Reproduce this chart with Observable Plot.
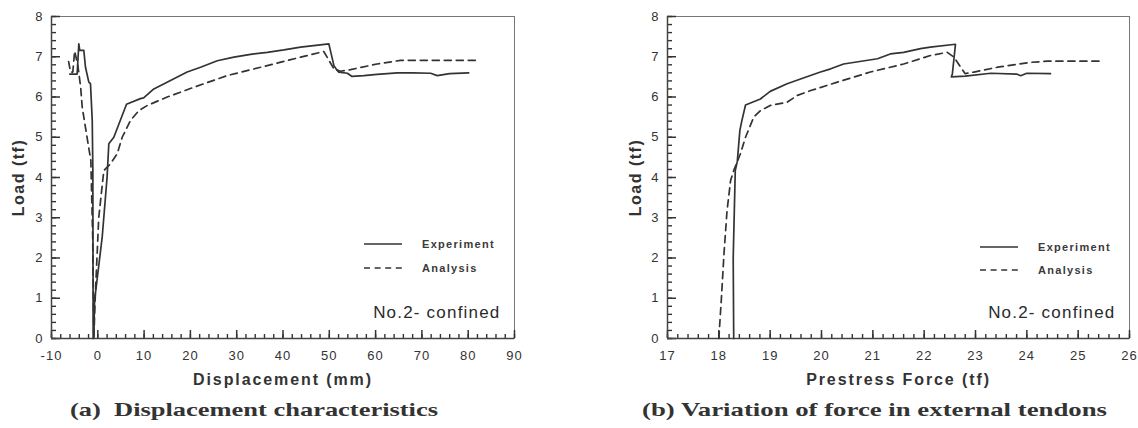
<!DOCTYPE html>
<html><head><meta charset="utf-8">
<script src="https://cdn.jsdelivr.net/npm/d3@7"></script>
<script src="https://cdn.jsdelivr.net/npm/@observablehq/plot@0.6"></script>
<style>
body{margin:0;background:#fff;}
#wrap{position:relative;width:1138px;height:428px;overflow:hidden;background:#fff;}
.panel{position:absolute;top:0;}
</style></head><body><div id="wrap"></div>
<script>
// ---- text ----
const loadLabel = "Load (tf)";
const xTitleA = "Displacement (mm)";
const xTitleB = "Prestress Force (tf)";
const noteText = "No.2- confined";
const seriesNames = ["Experiment", "Analysis"];
const captionA = "(a)  Displacement characteristics";
const captionB = "(b) Variation of force in external tendons";

// ---- ticks ----
const yMajor = [0, 1, 2, 3, 4, 5, 6, 7, 8];
const yMinor = d3.range(0, 8.001, 0.2);
const xMajorA = [-10, 0, 10, 20, 30, 40, 50, 60, 70, 80, 90];
const xMinorA = d3.range(-10, 90.001, 2);
const xMajorB = [17, 18, 19, 20, 21, 22, 23, 24, 25, 26];
const xMinorB = d3.range(17, 26.001, 0.2);

// ---- (a) Load vs displacement [mm, tf] ----
const expA = [
  [-6.05,6.57],[-4.46,6.57],[-4.1,7.32],[-3.9,7.16],[-3.02,7.16],[-2.66,6.74],[-1.94,6.37],
  [-1.58,6.33],[-1.2,5.42],[-1.07,4.17],[-1.0,0.0],[-0.86,0.05],[-0.7,0.94],[0.95,2.52],
  [2.0,4.0],[2.38,4.84],[3.46,5.0],[6.2,5.82],[9.2,5.96],[9.9,5.98],[12.1,6.2],[15.7,6.41],
  [19.3,6.62],[22.2,6.74],[25.8,6.9],[29.4,6.99],[33.0,7.06],[36.6,7.11],[40.2,7.17],
  [43.8,7.24],[49.9,7.32],[51.0,6.78],[51.7,6.66],[52.05,6.62],[53.9,6.59],[54.9,6.51],
  [57.45,6.53],[60.3,6.56],[64.7,6.6],[68.0,6.6],[71.9,6.59],[73.3,6.53],[76.0,6.58],[80.1,6.6]
];
const anaA = [
  [-6.3,6.88],[-5.9,6.62],[-5.4,6.62],[-5.0,7.14],[-4.3,6.78],[-3.7,6.24],[-3.37,5.75],
  [-2.1,4.84],[-1.5,4.42],[-1.1,2.5],[-0.85,0.0],[-0.6,0.9],[0.2,3.0],[1.3,4.17],[1.7,4.22],
  [2.74,4.34],[4.19,4.59],[5.27,5.0],[7.06,5.42],[8.86,5.66],[10.7,5.79],[15.0,6.0],
  [20.7,6.24],[27.9,6.53],[36.6,6.78],[43.8,6.99],[48.8,7.13],[51.0,6.7],[52.4,6.64],
  [54.6,6.68],[60.3,6.82],[65.4,6.91],[71.9,6.91],[82.3,6.91]
];

// ---- (b) Load vs prestress force [tf, tf] ----
const expB = [
  [18.29,0.0],[18.28,2.0],[18.32,4.17],[18.36,4.4],[18.41,5.17],[18.45,5.42],[18.52,5.8],
  [18.81,5.95],[19.0,6.14],[19.33,6.33],[19.66,6.48],[19.98,6.62],[20.18,6.7],[20.43,6.82],
  [21.09,6.95],[21.34,7.07],[21.6,7.11],[21.93,7.2],[22.12,7.24],[22.61,7.31],[22.55,6.58],
  [22.53,6.5],[22.8,6.52],[23.3,6.59],[23.8,6.57],[23.88,6.53],[24.0,6.59],[24.46,6.58]
];
const anaB = [
  [18.0,0.0],[18.05,1.0],[18.1,2.1],[18.16,3.18],[18.23,3.93],[18.29,4.17],[18.42,4.59],
  [18.52,5.0],[18.68,5.5],[18.81,5.66],[19.0,5.79],[19.33,5.87],[19.53,6.04],[19.79,6.16],
  [20.31,6.37],[20.95,6.62],[21.6,6.82],[22.12,7.03],[22.45,7.11],[22.58,6.99],[22.71,6.74],
  [22.8,6.58],[22.97,6.62],[23.43,6.74],[24.07,6.86],[24.4,6.89],[25.44,6.89]
];

const ink = "#333";
const sans = "'Liberation Sans', Arial, Helvetica, sans-serif";

function panel({exp, ana, xDomain, xMajor, xMinor, xTitle, marginLeft, marginRight, yTitleDx}) {
  const W = 569, H = 390, mt = 16, mb = 52;
  const fw = W - marginLeft - marginRight, fh = H - mt - mb;
  const svg = Plot.plot({
    width: W, height: H, marginLeft, marginRight, marginTop: mt, marginBottom: mb,
    x: {domain: xDomain},
    y: {domain: [0, 8]},
    style: {fontFamily: sans, fontSize: "13px", color: ink, background: "transparent", overflow: "visible"},
    marks: [
      Plot.frame({stroke: "#777", strokeWidth: 1}),
      Plot.ruleX(xMinor, {x: d => d, insetTop: fh - 4, stroke: "#333", strokeWidth: 1.4}),
      Plot.ruleX(xMajor, {x: d => d, insetTop: fh - 8, stroke: "#333", strokeWidth: 1.5}),
      Plot.ruleY(yMinor, {y: d => d, insetRight: fw - 5, stroke: "#333", strokeWidth: 1.4}),
      Plot.ruleY(yMajor, {y: d => d, insetRight: fw - 9, stroke: "#333", strokeWidth: 1.5}),
      Plot.ruleY([yMajor[0]], {stroke: "#444", strokeWidth: 1.5}),
      Plot.ruleX([xDomain[0]], {stroke: "#444", strokeWidth: 1.5}),
      Plot.axisX({ticks: xMajor, tickSize: 0, tickPadding: 12, label: null, tickFormat: d => String(d), fontSize: 13, fill: ink}),
      Plot.axisY({ticks: yMajor, tickSize: 0, tickPadding: 8, label: null, tickFormat: d => String(d), fontSize: 13, fill: ink}),
      Plot.line(exp, {x: d => d[0], y: d => d[1], stroke: ink, strokeWidth: 1.7, strokeLinejoin: "round"}),
      Plot.line(ana, {x: d => d[0], y: d => d[1], stroke: ink, strokeWidth: 1.7, strokeDasharray: "7,5"}),
      Plot.text([xTitle], {frameAnchor: "bottom", dy: 41, lineAnchor: "middle", fontSize: 16, fontWeight: "bold", fill: ink}),
      Plot.text([loadLabel], {frameAnchor: "left", dx: yTitleDx, rotate: -90, textAnchor: "middle", lineAnchor: "middle", fontSize: 16, fontWeight: "bold", fill: ink}),
      Plot.text([noteText], {frameAnchor: "bottom-right", dx: -14, dy: -26, textAnchor: "end", lineAnchor: "middle", fontSize: 17, fill: "#2a2a2a"})
    ]
  });
  const s = d3.select(svg);
  s.selectAll('g[aria-label="x-axis tick label"] text, g[aria-label="y-axis tick label"] text').attr("letter-spacing", "1px");
  const texts = s.selectAll('g[aria-label="text"]').nodes();
  if (texts[0]) d3.select(texts[0]).attr("letter-spacing", "1.9px");
  if (texts[1]) d3.select(texts[1]).attr("letter-spacing", "1.5px");
  if (texts[2]) d3.select(texts[2]).attr("letter-spacing", "1.2px");
  return svg;
}

const wrap = d3.select("#wrap");
const pA = panel({exp: expA, ana: anaA, xDomain: [xMajorA[0], xMajorA[xMajorA.length-1]], xMajor: xMajorA, xMinor: xMinorA, xTitle: xTitleA, marginLeft: 51, marginRight: 55, yTitleDx: -33});
const pB = panel({exp: expB, ana: anaB, xDomain: [xMajorB[0], xMajorB[xMajorB.length-1]], xMajor: xMajorB, xMinor: xMinorB, xTitle: xTitleB, marginLeft: 98, marginRight: 9, yTitleDx: -32});
d3.select(pA).attr("class", "panel").style("left", "0px");
d3.select(pB).attr("class", "panel").style("left", "569px");
wrap.node().appendChild(pA);
wrap.node().appendChild(pB);

// ---- legends and captions (overlay) ----
const ov = wrap.append("svg").attr("width", 1138).attr("height", 428)
  .style("position", "absolute").style("left", "0px").style("top", "0px");
const legends = [{x: 364, y: 244, gap: 24}, {x: 980, y: 247, gap: 23}];
legends.forEach(L => {
  const g = ov.append("g");
  seriesNames.forEach((name, i) => {
    const y = L.y + i * L.gap;
    g.append("line").attr("x1", L.x).attr("x2", L.x + 38).attr("y1", y).attr("y2", y)
      .attr("stroke", ink).attr("stroke-width", 1.5).attr("stroke-dasharray", i ? "6,4.6" : null);
    g.append("text").attr("x", L.x + 58).attr("y", y).attr("dy", "0.35em")
      .attr("font-family", sans).attr("font-size", 11).attr("font-weight", "bold")
      .attr("letter-spacing", "1.3px").attr("fill", "#3a3a3a").text(name);
  });
});
const caps = [{x: 70, len: 368, t: captionA}, {x: 642, len: 465, t: captionB}];
caps.forEach(c => {
  ov.append("text").attr("x", c.x).attr("y", 416)
    .attr("font-family", "'Liberation Serif', 'Times New Roman', serif").attr("font-size", 19)
    .attr("font-weight", "bold").attr("fill", "#333").attr("xml:space", "preserve")
    .style("white-space", "pre")
    .attr("textLength", c.len).attr("lengthAdjust", "spacingAndGlyphs").text(c.t);
});
</script></body></html>
